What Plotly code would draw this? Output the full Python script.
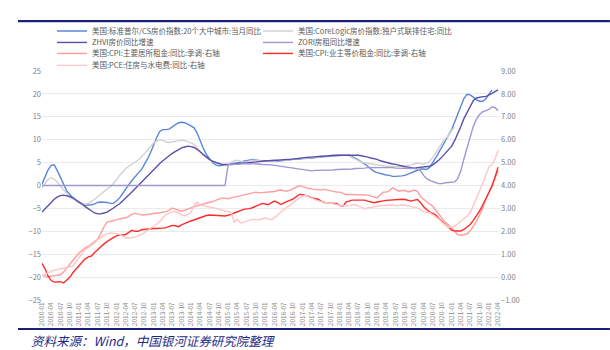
import pandas as pd
import plotly.graph_objects as go

# ---------------- data (monthly, starting 2010-01) ----------------
start_month = "2010-01-01"

names = [
    "美国:标准普尔/CS房价指数:20个大中城市:当月同比",
    "美国:CoreLogic房价指数:独户式联排住宅:同比",
    "ZHVI房价同比增速",
    "ZORI房租同比增速",
    "美国:CPI:主要居所租金:同比:季调-右轴",
    "美国:CPI:业主等价租金:同比:季调-右轴",
    "美国:PCE:住房与水电费:同比-右轴",
]

cs20 = [
    0.3, 1.8, 3.4, 4.4, 4.5, 3.2, 1.6, 0.3, -1.2, -2.0,
    -2.7, -3.3, -3.8, -4.1, -4.3, -4.3, -4.2, -4.0, -3.7, -3.6,
    -3.6, -3.7, -3.9, -3.9, -3.4, -2.7, -1.8, -0.7, 0.2, 1.1,
    2.0, 2.7, 3.4, 4.5, 5.8, 7.2, 9.0, 10.6, 11.8, 12.2,
    12.2, 12.3, 12.8, 13.3, 13.7, 13.8, 13.7, 13.4, 13.0, 12.6,
    11.5, 9.7, 8.2, 6.8, 5.8, 5.0, 4.5, 4.3, 4.4, 4.5,
    4.6, 4.8, 4.9, 5.0, 5.1, 5.3, 5.4, 5.6, 5.7, 5.6,
    5.4, 5.3, 5.3, 5.3, 5.3, 5.3, 5.4, 5.4, 5.5, 5.5,
    5.6, 5.7, 5.7, 5.8, 5.9, 5.9, 6.0, 6.0, 6.1, 6.1,
    6.2, 6.3, 6.3, 6.4, 6.4, 6.5, 6.6, 6.7, 6.7, 6.6,
    6.3, 6.0, 5.6, 5.1, 4.7, 4.2, 3.6, 3.1, 2.8, 2.6,
    2.4, 2.3, 2.2, 2.0, 2.0, 2.0, 2.1, 2.2, 2.5, 2.8,
    3.1, 3.3, 3.6, 3.6, 3.5, 4.0, 5.0, 6.2, 7.4, 8.5,
    9.7, 11.0, 12.2, 13.9, 15.6, 17.4, 19.0, 19.9, 19.8, 19.3,
    18.7, 18.4, 18.4, 18.9, 19.9, 20.9,
]

corelogic = [
    -0.5, 0.5, 1.3, 1.7, 1.4, 0.7, -0.1, -1.0, -1.9, -2.6,
    -3.0, -3.3, -3.6, -3.9, -4.1, -3.9, -3.5, -3.0, -2.4, -1.8,
    -1.3, -0.8, -0.3, 0.4, 1.2, 2.2, 3.0, 3.7, 4.2, 4.6,
    5.0, 5.5, 6.2, 7.0, 7.7, 8.6, 9.3, 9.7, 10.0, 9.9,
    9.5, 9.4, 9.5, 9.7, 9.8, 9.9, 9.8, 9.6, 9.3, 9.0,
    8.2, 7.3, 6.6, 6.0, 5.6, 5.3, 5.0, 4.8, 4.7, 4.7,
    4.8, 5.1, 5.4, 5.5, 5.3, 5.1, 5.2, 5.4, 5.5, 5.5,
    5.5, 5.5, 5.4, 5.3, 5.3, 5.4, 5.5, 5.5, 5.6, 5.6,
    5.7, 5.8, 5.8, 5.9, 6.0, 6.0, 6.1, 6.1, 6.2, 6.2,
    6.3, 6.4, 6.4, 6.5, 6.5, 6.6, 6.6, 6.7, 6.7, 6.5,
    6.1, 5.7, 5.4, 5.1, 4.9, 4.8, 4.6, 4.5, 4.4, 4.3,
    4.2, 4.2, 4.2, 4.1, 4.1, 4.1, 4.2, 4.2, 4.3, 4.5,
    4.7, 4.9, 4.8, 4.7, 4.9, 5.3, 6.2, 7.3, 8.3, 9.4,
    10.2, 10.9, 12.0, 12.8,
]

zhvi = [
    -5.8, -5.1, -4.3, -3.6, -3.0, -2.5, -2.2, -2.1, -2.2, -2.4,
    -2.7, -3.1, -3.6, -4.1, -4.6, -5.1, -5.6, -6.0, -6.2, -6.2,
    -6.0, -5.8, -5.4, -5.0, -4.5, -4.0, -3.4, -2.8, -2.1, -1.4,
    -0.7, -0.1, 0.6, 1.3, 2.0, 2.8, 3.5, 4.2, 4.8, 5.4,
    6.0, 6.5, 7.0, 7.4, 7.8, 8.2, 8.4, 8.6, 8.5, 8.3,
    7.9, 7.3, 6.7, 6.2, 5.7, 5.3, 5.0, 4.8, 4.6, 4.5,
    4.5, 4.6, 4.7, 4.8, 4.8, 4.9, 4.9, 5.0, 5.1, 5.2,
    5.3, 5.3, 5.4, 5.4, 5.5, 5.5, 5.5, 5.6, 5.6, 5.7,
    5.7, 5.8, 5.9, 6.0, 6.0, 6.1, 6.2, 6.2, 6.3, 6.3,
    6.4, 6.4, 6.5, 6.5, 6.6, 6.6, 6.6, 6.7, 6.7, 6.7,
    6.7, 6.7, 6.6, 6.5, 6.4, 6.2, 6.0, 5.9, 5.7, 5.4,
    5.2, 5.0, 4.8, 4.7, 4.6, 4.4, 4.2, 4.1, 4.0, 3.9,
    3.8, 3.9, 4.0, 4.1, 4.1, 4.2, 4.5, 5.0, 5.6, 6.3,
    7.0, 7.8, 8.6, 9.9, 11.2, 12.9, 14.6, 16.0, 17.4, 18.5,
    19.1, 19.3, 19.4, 19.4, 19.7, 20.1, 20.5, 20.9,
]

zori = [
    0.0, 0.0, 0.0, 0.0, 0.0, 0.0, 0.0, 0.0, 0.0, 0.0,
    0.0, 0.0, 0.0, 0.0, 0.0, 0.0, 0.0, 0.0, 0.0, 0.0,
    0.0, 0.0, 0.0, 0.0, 0.0, 0.0, 0.0, 0.0, 0.0, 0.0,
    0.0, 0.0, 0.0, 0.0, 0.0, 0.0, 0.0, 0.0, 0.0, 0.0,
    0.0, 0.0, 0.0, 0.0, 0.0, 0.0, 0.0, 0.0, 0.0, 0.0,
    0.0, 0.0, 0.0, 0.0, 0.0, 0.0, 0.0, 0.0, 0.0, 0.0,
    4.6, 4.6, 4.7, 4.7, 4.7, 4.8, 4.8, 4.8, 4.8, 4.7,
    4.7, 4.6, 4.6, 4.5, 4.5, 4.4, 4.3, 4.2, 4.1, 3.9,
    3.8, 3.7, 3.6, 3.5, 3.4, 3.3, 3.3, 3.2, 3.3, 3.3,
    3.3, 3.4, 3.3, 3.4, 3.4, 3.5, 3.5, 3.5, 3.5, 3.6,
    3.6, 3.7, 3.7, 3.8, 3.8, 3.9, 3.9, 3.9, 4.0, 4.0,
    3.9, 3.9, 3.9, 3.9, 3.8, 3.8, 3.8, 3.8, 3.8, 3.8,
    3.7, 3.6, 3.2, 2.2, 1.5, 1.1, 0.8, 0.6, 0.4, 0.4,
    0.6, 0.7, 0.7, 0.8, 1.5, 3.2, 5.8, 8.3, 10.8, 12.9,
    14.5, 15.5, 16.1, 16.4, 16.6, 17.2, 17.0, 16.4,
]

rent_primary = [
    0.08, 0.02, 0.00, 0.04, 0.06, 0.06, 0.10, 0.22, 0.40, 0.58,
    0.72, 0.90, 1.05, 1.18, 1.28, 1.35, 1.45, 1.55, 1.65, 1.90,
    2.20, 2.40, 2.43, 2.45, 2.50, 2.55, 2.57, 2.59, 2.65, 2.74,
    2.78, 2.74, 2.72, 2.71, 2.74, 2.77, 2.78, 2.80, 2.81, 2.83,
    2.86, 2.92, 3.02, 2.97, 2.92, 2.88, 2.92, 2.96, 3.02, 3.08,
    3.12, 3.16, 3.20, 3.24, 3.27, 3.30, 3.36, 3.42, 3.46, 3.44,
    3.42, 3.46, 3.49, 3.53, 3.57, 3.59, 3.61, 3.65, 3.70, 3.71,
    3.68, 3.69, 3.71, 3.71, 3.71, 3.74, 3.78, 3.80, 3.77, 3.76,
    3.80, 3.86, 3.93, 4.00, 3.95, 3.90, 3.87, 3.84, 3.82, 3.80,
    3.81, 3.83, 3.80, 3.74, 3.71, 3.71, 3.71, 3.66, 3.61, 3.61,
    3.61, 3.61, 3.61, 3.61, 3.61, 3.58, 3.55, 3.50, 3.46, 3.60,
    3.71, 3.71, 3.77, 3.90, 3.82, 3.75, 3.78, 3.78, 3.72, 3.76,
    3.80, 3.75, 3.52, 3.40, 3.30, 3.22, 3.08, 2.90, 2.72, 2.55,
    2.38, 2.28, 2.15, 1.98, 1.86, 1.83, 1.84, 1.88, 2.02, 2.20,
    2.42, 2.70, 3.00, 3.38, 3.72, 4.04, 4.30, 4.65,
]

oer = [
    0.60, 0.35, 0.05, -0.15, -0.22, -0.20, -0.20, -0.26, -0.15, -0.01,
    0.20, 0.35, 0.50, 0.70, 0.80, 0.88, 0.92, 1.07, 1.20, 1.32,
    1.45, 1.55, 1.65, 1.72, 1.80, 1.84, 1.84, 1.86, 1.95, 2.04,
    2.00, 2.00, 2.07, 2.09, 2.10, 2.12, 2.12, 2.12, 2.12, 2.14,
    2.16, 2.20, 2.26, 2.24, 2.20, 2.28, 2.35, 2.40, 2.45, 2.50,
    2.57, 2.62, 2.67, 2.69, 2.71, 2.71, 2.71, 2.70, 2.68, 2.67,
    2.70, 2.74, 2.80, 2.86, 2.91, 2.96, 2.98, 2.99, 3.04, 3.10,
    3.15, 3.22, 3.19, 3.17, 3.25, 3.32, 3.25, 3.17, 3.24, 3.30,
    3.36, 3.42, 3.52, 3.61, 3.60, 3.57, 3.52, 3.46, 3.43, 3.40,
    3.32, 3.25, 3.24, 3.22, 3.22, 3.22, 3.12, 3.10, 3.28, 3.32,
    3.36, 3.36, 3.36, 3.36, 3.36, 3.32, 3.28, 3.25, 3.28, 3.32,
    3.33, 3.35, 3.36, 3.38, 3.40, 3.42, 3.40, 3.39, 3.36, 3.32,
    3.36, 3.39, 3.25, 3.07, 2.95, 2.84, 2.78, 2.70, 2.55, 2.42,
    2.30, 2.15, 2.05, 2.01, 2.01, 2.01, 2.08, 2.18, 2.30, 2.48,
    2.67, 2.88, 3.15, 3.40, 3.70, 3.97, 4.35, 4.80,
]

pce_housing = [
    0.05, 0.12, 0.20, 0.26, 0.30, 0.33, 0.36, 0.38, 0.40, 0.45,
    0.50, 0.68, 0.86, 1.04, 1.20, 1.30, 1.38, 1.50, 1.62, 1.72,
    1.84, 1.90, 1.93, 1.93, 1.90, 1.86, 1.78, 1.72, 1.72, 1.72,
    1.76, 1.80, 1.86, 1.94, 2.05, 2.16, 2.23, 2.32, 2.42, 2.60,
    2.72, 2.79, 2.85, 2.86, 2.81, 2.72, 2.67, 2.74, 2.82, 3.15,
    3.28, 3.14, 3.12, 3.10, 3.07, 3.04, 3.00, 2.97, 2.93, 2.90,
    2.87, 2.82, 2.40, 2.52, 2.36, 2.40, 2.46, 2.48, 2.52, 2.51,
    2.50, 2.55, 2.58, 2.55, 2.50, 2.60, 2.70, 2.85, 2.95, 3.05,
    3.15, 3.27, 3.38, 3.46, 3.52, 3.57, 3.50, 3.43, 3.38, 3.33,
    3.30, 3.27, 3.23, 3.20, 3.18, 3.17, 3.14, 3.12, 3.10, 3.12,
    3.15, 3.17, 3.10, 3.04, 2.99, 3.02, 3.05, 3.07, 3.10, 3.12,
    3.12, 3.12, 3.15, 3.16, 3.12, 3.12, 3.16, 3.14, 3.11, 3.10,
    3.07, 3.02, 2.95, 2.86, 2.83, 2.81, 2.72, 2.62, 2.52, 2.38,
    2.27, 2.18, 2.18, 2.23, 2.33, 2.44, 2.53, 2.66, 2.81, 3.10,
    3.45, 3.75, 4.10, 4.45, 4.80, 4.91, 5.15, 5.54,
]

footer_text = "资料来源：Wind，中国银河证券研究院整理"

# ---------------- figure ----------------
months = pd.date_range(start_month, periods=148, freq="MS")

series = [
    (cs20, names[0], "#5B87D8", "y", "legend"),
    (corelogic, names[1], "#D2D2D2", "y", "legend"),
    (zhvi, names[2], "#5A4FAA", "y", "legend2"),
    (zori, names[3], "#9E97D3", "y", "legend2"),
    (rent_primary, names[4], "#FF9C9C", "y2", "legend3"),
    (oer, names[5], "#FF2B2B", "y2", "legend3"),
    (pce_housing, names[6], "#FFC6C6", "y2", "legend4"),
]

fig = go.Figure()
for vals, nm, col, ax, lg in series:
    fig.add_trace(go.Scatter(
        x=months[:len(vals)], y=vals, name=nm, mode="lines",
        line=dict(color=col, width=1.4), yaxis=ax, legend=lg,
    ))

FONT = "Noto Sans CJK SC, Noto Sans, sans-serif"
legend_common = dict(
    orientation="h", xanchor="left", yanchor="top", x=0.0218,
    entrywidth=161, entrywidthmode="pixels", itemwidth=30,
    font=dict(family=FONT, size=7.5, color="#595959"),
    bgcolor="rgba(0,0,0,0)", borderwidth=0,
)

fig.update_layout(
    width=610, height=350,
    margin=dict(l=42, r=110, t=71, b=50, autoexpand=False),
    paper_bgcolor="white", plot_bgcolor="white",
    font=dict(family=FONT, color="#808080"),
    showlegend=True,
    legend=dict(legend_common, y=1.238),
    legend2=dict(legend_common, y=1.188),
    legend3=dict(legend_common, y=1.140),
    legend4=dict(legend_common, y=1.088),
    xaxis=dict(
        type="date", range=["2010-01-01", "2022-04-20"],
        tick0="2010-01-01", dtick="M3", tickformat="%Y-%m",
        tickangle=-90, tickfont=dict(size=6.5, color="#8C8C8C"),
        showgrid=False, showline=False, zeroline=False, ticks="",
    ),
    yaxis=dict(
        range=[-25, 25], tick0=0, dtick=5,
        showgrid=True, gridcolor="#EBEBEB", gridwidth=1,
        zeroline=False, showline=False, ticks="",
        tickfont=dict(size=7.5, color="#808080"),
    ),
    yaxis2=dict(
        range=[-1, 9], tick0=0, dtick=1, tickformat=".2f",
        overlaying="y", side="right",
        showgrid=False, zeroline=False, showline=False, ticks="",
        tickfont=dict(size=7.5, color="#808080"),
    ),
    shapes=[
        dict(type="line", xref="paper", yref="paper",
             x0=-0.0524, x1=1.24, y0=1.218, y1=1.218,
             line=dict(color="#1C1F7A", width=2.2)),
        dict(type="line", xref="paper", yref="paper",
             x0=-0.0524, x1=1.24, y0=-0.1266, y1=-0.1266,
             line=dict(color="#1C1F7A", width=2.2)),
    ],
    annotations=[
        dict(text=footer_text, xref="paper", yref="paper",
             x=-0.0284, y=-0.1747, xanchor="left", yanchor="middle",
             showarrow=False,
             font=dict(family=FONT, size=12.5, color="#1F2A86", style="italic")),
    ],
)

fig.write_html("out.html")
